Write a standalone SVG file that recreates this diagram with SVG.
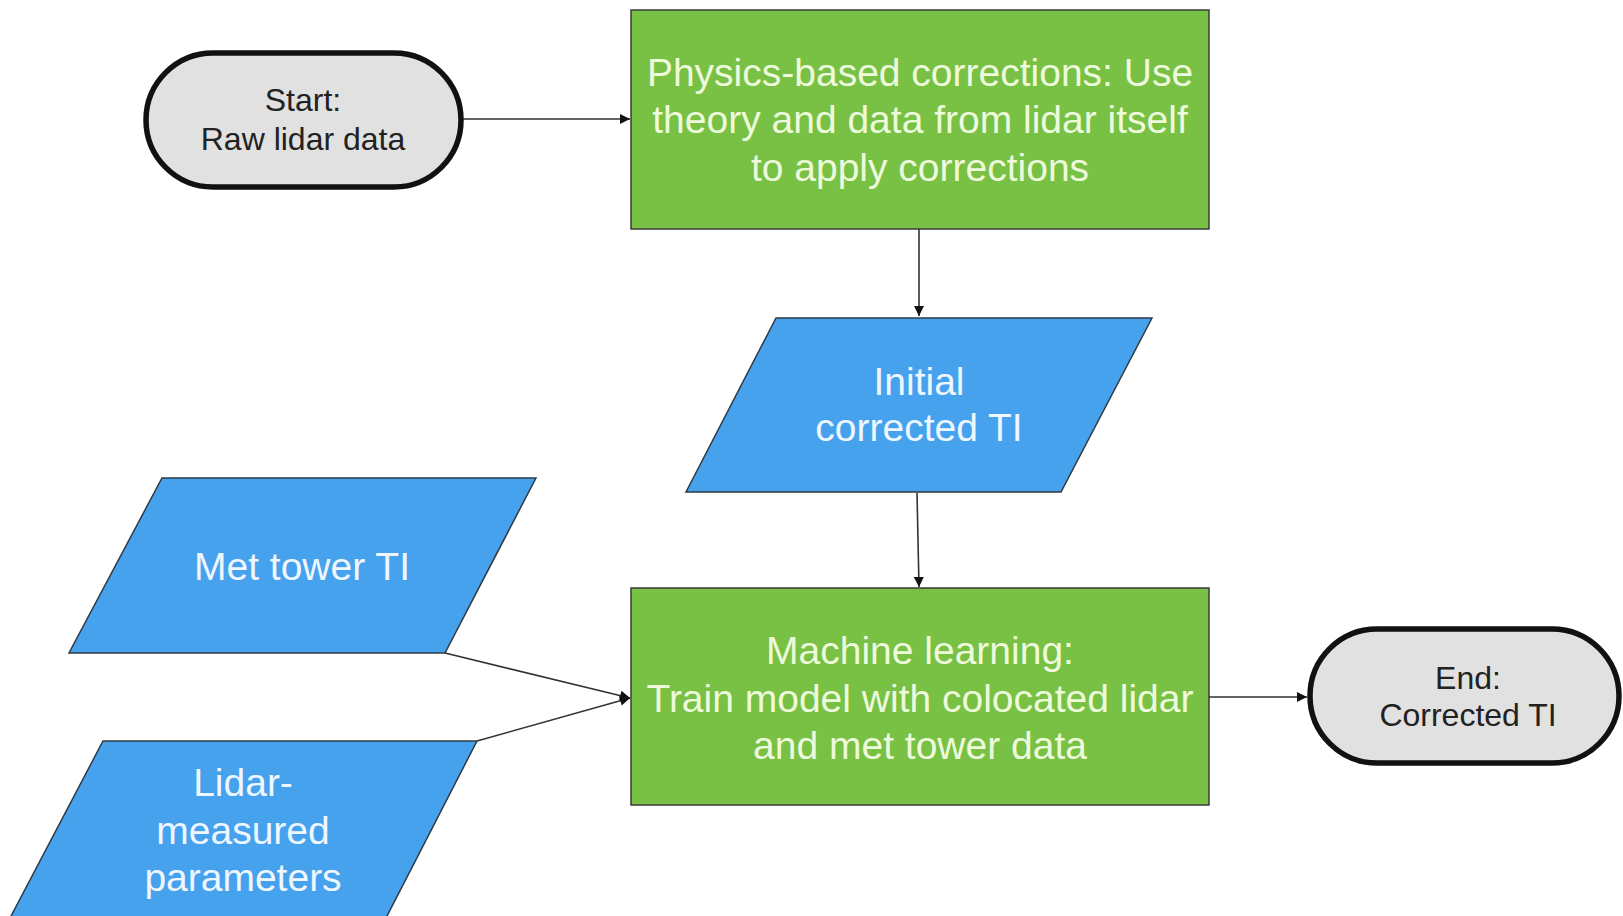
<svg xmlns="http://www.w3.org/2000/svg" width="1623" height="916" viewBox="0 0 1623 916">
<defs>
<marker id="ah" viewBox="0 0 10 10" refX="10" refY="5" markerWidth="11" markerHeight="10" markerUnits="userSpaceOnUse" orient="auto">
<path d="M0,0 L10,5 L0,10 z" fill="#111"/>
</marker>
<style>
.term{fill:#e1e1e1;stroke:#111;stroke-width:5.5}
.proc{fill:#78c144;stroke:#3a3a3a;stroke-width:1.5}
.data{fill:#47a2ee;stroke:#2f3a44;stroke-width:1.5}
.t{font-family:"Liberation Sans",Arial,sans-serif;text-anchor:middle}
.tt{font-size:32px;fill:#222}
.tp{font-size:39px;fill:#eefadc}
.td{font-size:39px;fill:#eef6ff}
.c{stroke:#333;stroke-width:1.6;fill:none;marker-end:url(#ah)}
</style>
</defs>
<rect width="1623" height="916" fill="#fff"/>
<g id="connectors">
<line class="c" x1="462" y1="119" x2="630" y2="119"/>
<line class="c" x1="919" y1="229" x2="919" y2="316"/>
<line class="c" x1="917" y1="493" x2="919" y2="587"/>
<line class="c" x1="445" y1="653" x2="630" y2="698"/>
<line class="c" x1="477" y1="741" x2="630" y2="698"/>
<line class="c" x1="1209" y1="697" x2="1307" y2="697"/>
</g>
<g id="start">
<rect class="term" x="146" y="53" width="315" height="134" rx="67"/>
<text class="t tt" x="303" y="111">Start:</text>
<text class="t tt" x="303" y="150">Raw lidar data</text>
</g>
<g id="physics">
<rect class="proc" x="631" y="10" width="578" height="219"/>
<text class="t tp" x="920" y="86">Physics-based corrections: Use</text>
<text class="t tp" x="920" y="133">theory and data from lidar itself</text>
<text class="t tp" x="920" y="181">to apply corrections</text>
</g>
<g id="initial">
<polygon class="data" points="776,318 1152,318 1061,492 686,492"/>
<text class="t td" x="919" y="395">Initial</text>
<text class="t td" x="919" y="441">corrected TI</text>
</g>
<g id="met">
<polygon class="data" points="162,478 536,478 445,653 69,653"/>
<text class="t td" x="302" y="580">Met tower TI</text>
</g>
<g id="lidar">
<polygon class="data" points="103,741 477,741 386,918 10,918"/>
<text class="t td" x="243" y="796">Lidar-</text>
<text class="t td" x="243" y="844">measured</text>
<text class="t td" x="243" y="891">parameters</text>
</g>
<g id="ml">
<rect class="proc" x="631" y="588" width="578" height="217"/>
<text class="t tp" x="920" y="664">Machine learning:</text>
<text class="t tp" x="920" y="712">Train model with colocated lidar</text>
<text class="t tp" x="920" y="759">and met tower data</text>
</g>
<g id="end">
<rect class="term" x="1310" y="629" width="309" height="134" rx="67"/>
<text class="t tt" x="1468" y="689">End:</text>
<text class="t tt" x="1468" y="726">Corrected TI</text>
</g>
</svg>
